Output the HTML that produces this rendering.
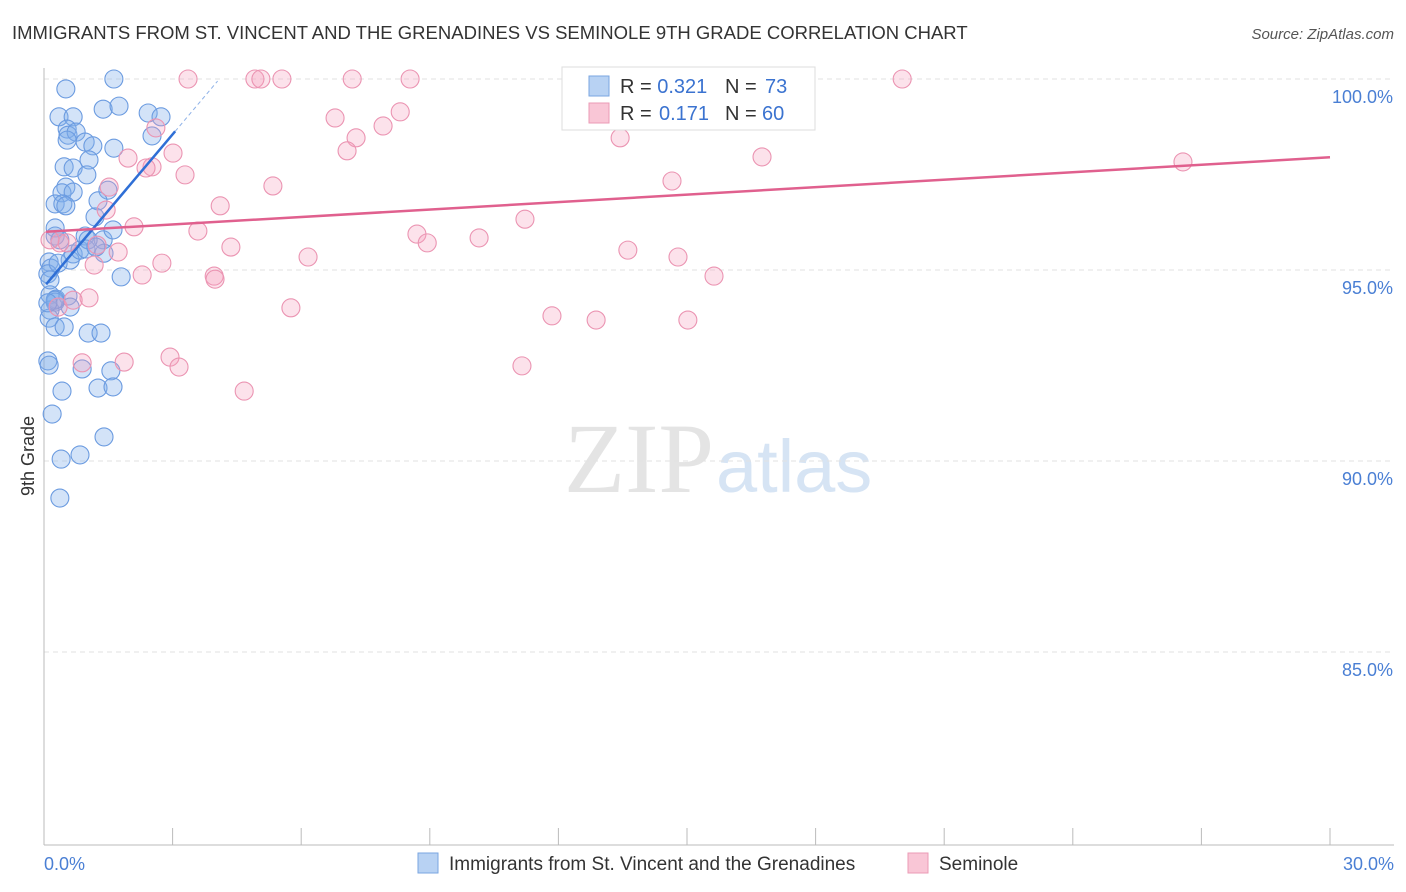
<!DOCTYPE html>
<html><head><meta charset="utf-8"><style>
body{margin:0;background:#fff;font-family:"Liberation Sans",sans-serif;}
#c{position:absolute;left:0;top:0;width:1406px;height:892px;}
</style></head><body>
<svg id="c" width="1406" height="892" xmlns="http://www.w3.org/2000/svg">
<text x="12" y="39" font-size="18.5" fill="#333">IMMIGRANTS FROM ST. VINCENT AND THE GRENADINES VS SEMINOLE 9TH GRADE CORRELATION CHART</text>
<text x="1394" y="39" font-size="15" fill="#555" font-style="italic" text-anchor="end">Source: ZipAtlas.com</text>
<text x="714" y="492" font-size="100" fill="#e4e4e4" text-anchor="end" font-family="Liberation Serif,serif">ZIP</text>
<text x="716" y="492" font-size="74" fill="#d6e4f4">atlas</text>
<g id="grid"></g>
<g id="axes"></g>
<g id="pts"></g>
<g id="lines"></g>
<text x="34" y="456" font-size="18" fill="#333" text-anchor="middle" transform="rotate(-90 34 456)">9th Grade</text>
<text x="44" y="870" font-size="18" fill="#4a7fd4">0.0%</text>
<text x="1394" y="870" font-size="18" fill="#4a7fd4" text-anchor="end">30.0%</text>
<g>
<rect x="562" y="67" width="253" height="63" fill="#fff" stroke="#ddd"/>
<rect x="589" y="76" width="20" height="20" fill="#b8d2f3" stroke="#7aa6e0"/>
<rect x="589" y="103" width="20" height="20" fill="#f9c6d6" stroke="#eb9bb6"/>
<text x="620" y="93" font-size="20" fill="#333">R = <tspan fill="#3b73d0">0.321</tspan><tspan x="725">N = </tspan><tspan fill="#3b73d0" x="765">73</tspan></text>
<text x="620" y="120" font-size="20" fill="#333">R = <tspan fill="#3b73d0" x="659">0.171</tspan><tspan x="725">N = </tspan><tspan fill="#3b73d0" x="762">60</tspan></text>
</g>
<g>
<rect x="418" y="853" width="20" height="20" fill="#b8d2f3" stroke="#7aa6e0"/>
<text x="449" y="870" font-size="19" fill="#333">Immigrants from St. Vincent and the Grenadines</text>
<rect x="908" y="853" width="20" height="20" fill="#f9c6d6" stroke="#eb9bb6"/>
<text x="939" y="870" font-size="19" fill="#333">Seminole</text>
</g>
</svg>
<script>
const blueX=[1.63,.51,.35,.68,1.38,1.75,2.43,2.73,.54,.56,.75,.96,1.14,1.63,2.52,1.05,.47,.68,1.00,.51,.42,.68,1.49,.26,.44,.51,1.26,1.19,.26,.26,.37,.96,1.38,1.40,.68,.61,.12,.16,.09,1.80,.14,.28,.56,.26,.61,.14,.12,.26,.47,1.03,1.33,.09,.12,.89,1.56,.42,1.26,1.61,.19,1.40,.40,.84,.37,.84,1.03,.33,.26,.09,.14,.98,.54,1.61,1.21];
const blueY=[100,99.74,99.01,99.01,99.21,99.29,99.11,99.01,98.69,98.53,98.61,98.35,98.25,98.19,98.51,97.88,97.70,97.67,97.49,97.17,97.02,97.04,97.09,96.73,96.73,96.68,96.81,96.39,96.10,95.89,95.79,95.89,95.79,95.44,95.42,95.26,95.21,95.05,94.90,94.82,94.35,94.24,94.32,94.16,94.03,93.95,93.74,93.51,93.51,93.35,93.35,92.62,92.51,92.41,92.36,91.83,91.91,91.94,91.23,90.63,90.05,90.16,89.03,95.52,95.79,95.18,94.21,94.14,94.74,95.55,98.40,96.05,95.60];
const pinkX=[3.36,4.92,5.06,5.55,7.19,8.54,20.02,8.31,6.79,7.28,7.91,7.07,13.44,1.96,3.01,2.52,2.38,3.29,16.75,26.57,14.65,5.34,1.52,4.11,1.45,2.10,3.59,8.70,8.94,10.15,11.22,13.62,4.36,1.73,.54,1.24,6.16,2.75,2.29,1.17,3.97,14.79,15.63,1.05,5.76,11.85,12.88,15.02,.33,2.94,3.15,1.87,.89,11.15,4.67,2.61,.37,.14,3.99,.68];
const pinkY=[100,100,100,100,100,100,100,99.14,98.98,98.46,98.77,98.12,98.46,97.93,98.06,97.70,97.67,97.49,97.96,97.83,97.33,97.20,97.17,96.68,96.57,96.13,96.02,95.94,95.71,95.84,96.33,95.52,95.60,95.47,95.71,95.65,95.34,95.18,94.87,95.13,94.84,95.34,94.84,94.27,94.01,93.80,93.69,93.69,94.03,92.72,92.46,92.59,92.57,92.49,91.83,98.72,95.71,95.79,94.76,94.21];
const yTicks=[100,95,90,85];
const yTickLabels=["100.0%","95.0%","90.0%","85.0%"];
const xTicks=[0,3,6,9,12,15,18,21,24,27,30];
const blueTrend=[94.56,1.33]; // intercept, slope
const pinkTrend=[96.0,0.065];
const sx=v=>44+v/30*1286, sy=v=>79+(100-v)/5*191;
const NS="http://www.w3.org/2000/svg";
function mk(p,t,a){const e=document.createElementNS(NS,t);for(const k in a)e.setAttribute(k,a[k]);p.appendChild(e);return e;}
const grid=document.getElementById('grid'),axes=document.getElementById('axes'),pts=document.getElementById('pts'),lines=document.getElementById('lines');
yTicks.forEach((t,i)=>{
 const l=mk(grid,'line',{x1:44,x2:1394,y1:sy(t),y2:sy(t),stroke:'#e2e2e2','stroke-dasharray':'5,4'});
 
 
 const tx=mk(grid,'text',{x:1393,y:sy(t)+24,'font-size':18,fill:'#4a7fd4','text-anchor':'end'});
 tx.textContent=yTickLabels[i];
 
 
});
let a=mk(axes,'line',{x1:44,x2:44,y1:68,y2:845,stroke:'#bbb'});


a=mk(axes,'line',{x1:44,x2:1394,y1:845,y2:845,stroke:'#bbb'});


xTicks.forEach(t=>{
 const l=mk(axes,'line',{x1:sx(t),x2:sx(t),y1:828,y2:845,stroke:'#bbb'});
 
 
});
blueX.forEach((x,i)=>{
 const c=mk(pts,'circle',{cx:sx(x),cy:sy(blueY[i]),r:9,fill:'rgba(130,175,235,0.35)',stroke:'#6b9be0','stroke-width':1.1});
 
 
});
pinkX.forEach((x,i)=>{
 const c=mk(pts,'circle',{cx:sx(x),cy:sy(pinkY[i]),r:9,fill:'rgba(245,160,190,0.3)',stroke:'#eb94b2','stroke-width':1.1});
 
 
});
const bx1=3.06,bx2=4.05;
let t=mk(lines,'line',{x1:sx(0.05),y1:sy(blueTrend[0]+blueTrend[1]*0.05),x2:sx(bx1),y2:sy(blueTrend[0]+blueTrend[1]*bx1),stroke:'#2f6fd6','stroke-width':2.5});


t=mk(lines,'line',{x1:sx(bx1),y1:sy(blueTrend[0]+blueTrend[1]*bx1),x2:sx(bx2),y2:sy(blueTrend[0]+blueTrend[1]*bx2),stroke:'#8fb2e8','stroke-width':1,'stroke-dasharray':'4,3'});


t=mk(lines,'line',{x1:sx(0.05),y1:sy(pinkTrend[0]),x2:sx(30),y2:sy(pinkTrend[0]+pinkTrend[1]*30),stroke:'#e0608e','stroke-width':2.5});


</script>
</body></html>
